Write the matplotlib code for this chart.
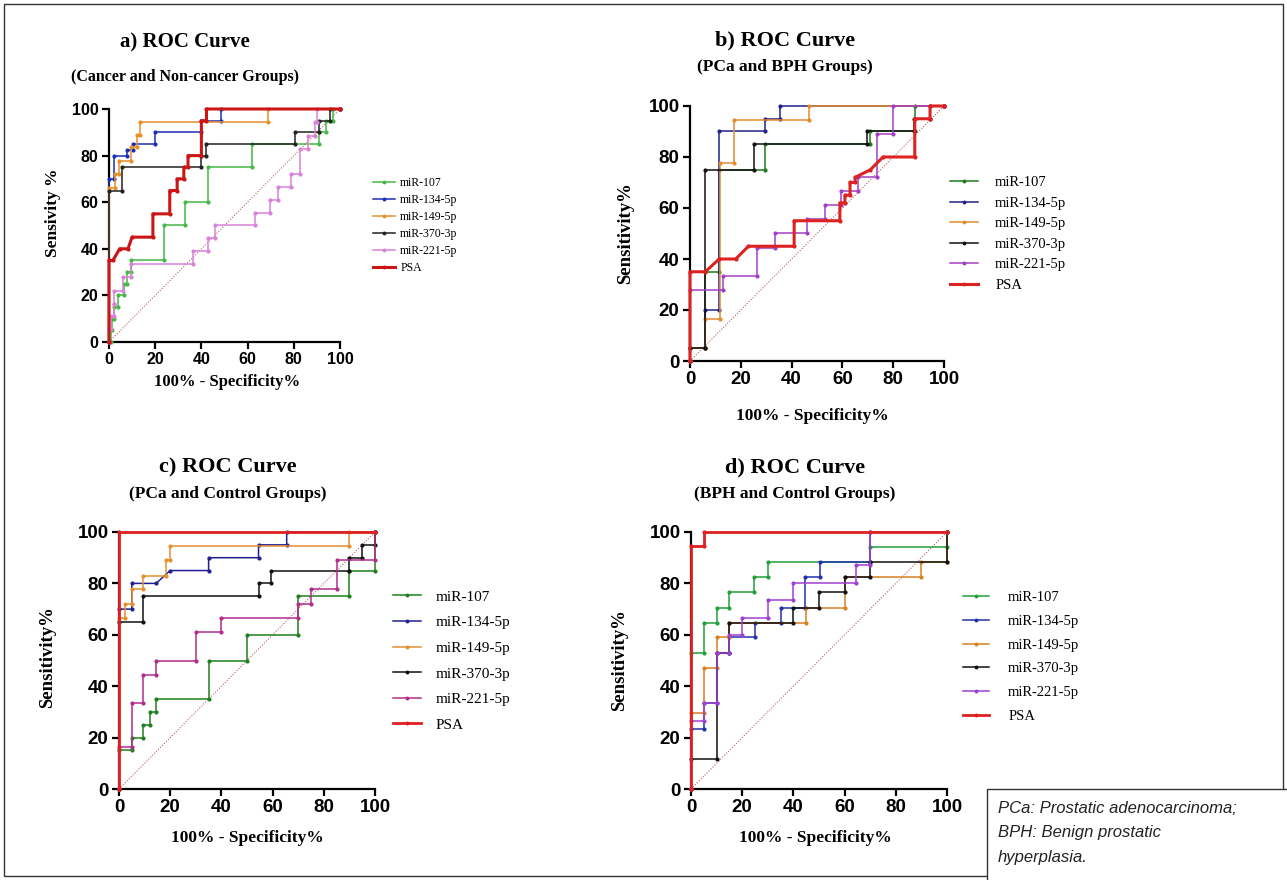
import matplotlib.pyplot as plt
from matplotlib.patches import Rectangle

plt.rcParams['font.family'] = ['Liberation Serif', 'DejaVu Serif']

labels = ['miR-107', 'miR-134-5p', 'miR-149-5p', 'miR-370-3p', 'miR-221-5p', 'PSA']
ticks = [0, 20, 40, 60, 80, 100]
chance = [0, 100]

# a) Cancer vs non-cancer  (x = 100% - specificity, y = sensitivity)
a_mir107 = [(0, 0), (1, 0), (1, 5), (1.5, 5), (1.5, 10), (2, 10), (2, 15), (4, 15), (4, 20),
            (6.5, 20), (6.5, 25), (8, 25), (8, 30), (9.5, 30), (9.5, 35), (24, 35), (24, 50),
            (33, 50), (33, 60), (43, 60), (43, 75), (62, 75), (62, 85), (91, 85), (91, 90),
            (94, 90), (94, 95), (97, 95), (97, 100), (100, 100)]
a_mir134 = [(0, 0), (0, 70), (2, 70), (2, 80), (8, 80), (8, 82.5), (10.5, 82.5), (10.5, 85),
            (20, 85), (20, 90), (40, 90), (40, 95), (48.5, 95), (48.5, 100), (100, 100)]
a_mir149 = [(0, 0), (0, 66), (2.5, 66), (2.5, 72), (4.5, 72), (4.5, 77.5), (9.5, 77.5), (9.5, 83.5),
            (12, 83.5), (12, 89), (13.5, 89), (13.5, 94.5), (69, 94.5), (69, 100), (100, 100)]
a_mir370 = [(0, 0), (0, 65), (5.5, 65), (5.5, 75), (40, 75), (40, 80), (42, 80), (42, 85),
            (80.5, 85), (80.5, 90), (91, 90), (91, 95), (95.5, 95), (95.5, 100), (100, 100)]
a_mir221 = [(0, 0), (0, 5.5), (1, 5.5), (1, 11), (2, 11), (2, 16.5), (2.2, 16.5), (2.2, 22),
            (6, 22), (6, 28), (9.5, 28), (9.5, 33.3), (36.5, 33.3), (36.5, 39), (43, 39),
            (43, 44.5), (46, 44.5), (46, 50), (63, 50), (63, 55.5), (69.5, 55.5), (69.5, 61),
            (73, 61), (73, 66.5), (79, 66.5), (79, 72), (82.5, 72), (82.5, 83), (86, 83),
            (86, 88.5), (89, 88.5), (89, 94.5), (90, 94.5), (90, 100), (100, 100)]
a_psa = [(0, 0), (0, 35), (1.7, 35), (4.6, 40), (8.2, 40), (10, 45), (19, 45), (19, 55),
         (26.3, 55), (26.3, 65), (29.5, 65), (29.5, 70), (32.4, 70), (32.4, 75), (34.2, 75),
         (34.2, 80), (40, 80), (40, 95), (42.2, 95), (42.2, 100), (100, 100)]

# b) PCa vs BPH
b_mir107 = [(0, 0), (0, 5), (6, 5), (6, 35), (11.5, 35), (11.5, 75), (29.5, 75), (29.5, 85),
            (71, 85), (71, 90), (88.5, 90), (88.5, 100), (100, 100)]
b_mir134 = [(0, 0), (0, 5), (6, 5), (6, 20), (11.5, 20), (11.5, 90), (29.5, 90), (29.5, 95),
            (35.5, 95), (35.5, 100), (100, 100)]
b_mir149 = [(0, 0), (0, 5), (6, 5), (6, 16.5), (12, 16.5), (12, 77.5), (17.5, 77.5), (17.5, 94.5),
            (47, 94.5), (47, 100), (100, 100)]
b_mir370 = [(0, 0), (0, 5), (6, 5), (6, 75), (25, 75), (25, 85), (69.5, 85), (69.5, 90),
            (88, 90), (88, 95), (94.5, 95), (94.5, 100), (100, 100)]
b_mir221 = [(0, 0), (0, 28), (13, 28), (13, 33.3), (26.5, 33.3), (26.5, 44.5), (33.5, 44.5),
            (33.5, 50), (46, 50), (46, 55.5), (53, 55.5), (53, 61), (59.5, 61), (59.5, 66.5),
            (66, 66.5), (66, 72), (73.5, 72), (73.5, 89), (80, 89), (80, 100), (100, 100)]
b_psa = [(0, 0), (0, 35), (6, 35), (11.5, 40), (18, 40), (23, 45), (41, 45), (41, 55), (59, 55),
         (59, 62), (61, 62), (61, 65), (63, 65), (63, 70), (65, 70), (65, 72), (71, 75), (76, 80),
         (88.5, 80), (88.5, 95), (94.5, 95), (94.5, 100), (100, 100)]

# c) PCa vs control
c_mir107 = [(0, 0), (0, 15), (5, 15), (5, 20), (9.5, 20), (9.5, 25), (12, 25), (12, 30),
            (14.5, 30), (14.5, 35), (35, 35), (35, 50), (50, 50), (50, 60), (70, 60), (70, 75),
            (90, 75), (90, 85), (100, 85), (100, 100)]
c_mir134 = [(0, 0), (0, 70), (5, 70), (5, 80), (14.5, 80), (20, 85), (35, 85), (35, 90),
            (54.5, 90), (54.5, 95), (65.5, 95), (65.5, 100), (100, 100)]
c_mir149 = [(0, 0), (0, 66.5), (2.2, 66.5), (2.2, 72), (5, 72), (5, 77.7), (9.5, 77.7), (9.5, 83),
            (18.5, 83), (18.5, 89), (20, 89), (20, 94.5), (90, 94.5), (90, 100), (100, 100)]
c_mir370 = [(0, 0), (0, 65), (9.5, 65), (9.5, 75), (54.5, 75), (54.5, 80), (59.5, 80), (59.5, 85),
            (90, 85), (90, 90), (95, 90), (95, 95), (100, 95), (100, 100)]
c_mir221 = [(0, 0), (0, 16.5), (5, 16.5), (5, 33.3), (9.5, 33.3), (9.5, 44.5), (14.5, 44.5),
            (14.5, 50), (30, 50), (30, 61), (40, 61), (40, 66.5), (70, 66.5), (70, 72), (75, 72),
            (75, 77.7), (85, 77.7), (85, 89), (100, 89), (100, 100)]
c_psa = [(0, 0), (0, 100), (100, 100)]

# d) BPH vs control
d_mir107 = [(0, 0), (0, 53), (5, 53), (5, 64.7), (10, 64.7), (10, 70.6), (15, 70.6), (15, 76.5),
            (24.5, 76.5), (24.5, 82.4), (30, 82.4), (30, 88.2), (70, 88.2), (70, 94.1),
            (100, 94.1), (100, 100)]
d_mir134 = [(0, 0), (0, 23.5), (5, 23.5), (5, 33.3), (10, 33.3), (10, 53), (15, 53), (15, 59),
            (25, 59), (25, 64.7), (35, 64.7), (35, 70.6), (44.5, 70.6), (44.5, 82.4), (50.5, 82.4),
            (50.5, 88.2), (70, 88.2), (70, 100), (100, 100)]
d_mir149 = [(0, 0), (0, 29.4), (5, 29.4), (5, 47), (10, 47), (10, 59), (15, 59), (15, 64.7),
            (45, 64.7), (45, 70.6), (60, 70.6), (60, 82.4), (90, 82.4), (90, 88.2), (100, 88.2),
            (100, 100)]
d_mir370 = [(0, 0), (0, 11.8), (10, 11.8), (10, 53), (15, 53), (15, 64.7), (40, 64.7), (40, 70.6),
            (50, 70.6), (50, 76.5), (60, 76.5), (60, 82.4), (70, 82.4), (70, 88.2), (100, 88.2),
            (100, 100)]
d_mir221 = [(0, 0), (0, 26.5), (5, 26.5), (5, 33.3), (10, 33.3), (10, 53), (15, 53), (15, 60),
            (20, 60), (20, 66.5), (30, 66.5), (30, 73.5), (40, 73.5), (40, 80), (64.5, 80),
            (64.5, 87), (70, 87), (70, 100), (100, 100)]
d_psa = [(0, 0), (0, 94.5), (5, 94.5), (5, 100), (100, 100)]

fig = plt.figure(figsize=(12.87, 8.8), dpi=100)
W, H = 1287, 880


def px_axes(x0, y0, x1, y1):
    # pixel box -> figure fraction
    return fig.add_axes([x0 / W, 1 - y1 / H, (x1 - x0) / W, (y1 - y0) / H])


panels = [
    dict(box=(109, 109, 340, 342), curves=[a_mir107, a_mir134, a_mir149, a_mir370, a_mir221, a_psa],
         colors=['#45b845', '#1b2fb8', '#e8902a', '#222222', '#d982d9', '#cc1515'],
         psa_lw=2.2, tfs=11.5, title='a) ROC Curve', sub='(Cancer and Non-cancer Groups)',
         tpos=(185, 42), spos=(185, 77), ttl_fs=15, sub_fs=11.5,
         ylabel='Sensivity %', ylpos=(53, 213), xlpos=(227, 382), ylab_fs=12.5, xlab_fs=12,
         leg=(373, 177), leg_fs=8.5, leg_sp=0.42, hl=1.9, htp=0.4),
    dict(box=(690, 106, 944, 361), curves=[b_mir107, b_mir134, b_mir149, b_mir370, b_mir221, b_psa],
         colors=['#1e7a1e', '#22228a', '#e38c2e', '#111111', '#a33fc4', '#dd2222'],
         psa_lw=2.2, tfs=13.5, title='b) ROC Curve', sub='(PCa and BPH Groups)',
         tpos=(785, 40), spos=(785, 67), ttl_fs=16, sub_fs=12.5,
         ylabel='Sensitivity%', ylpos=(626, 233), xlpos=(812, 416), ylab_fs=13.5, xlab_fs=12.5,
         leg=(950, 176), leg_fs=10.5, leg_sp=0.5, hl=1.9, htp=1.2),
    dict(box=(119, 532, 375, 789), curves=[c_mir107, c_mir134, c_mir149, c_mir370, c_mir221, c_psa],
         colors=['#1f801f', '#202090', '#e39030', '#111111', '#b02d8c', '#e02020'],
         psa_lw=2.0, tfs=13.5, title='c) ROC Curve', sub='(PCa and Control Groups)',
         tpos=(228, 467), spos=(228, 494), ttl_fs=16, sub_fs=12.5,
         ylabel='Sensitivity%', ylpos=(48, 657), xlpos=(247, 838), ylab_fs=13.5, xlab_fs=12.5,
         leg=(393, 590), leg_fs=11, leg_sp=0.78, hl=1.8, htp=1.0),
    dict(box=(691, 532, 947, 789), curves=[d_mir107, d_mir134, d_mir149, d_mir370, d_mir221, d_psa],
         colors=['#22a03a', '#2233aa', '#d98020', '#111111', '#a040d0', '#e02020'],
         psa_lw=2.0, tfs=13.5, title='d) ROC Curve', sub='(BPH and Control Groups)',
         tpos=(795, 467), spos=(795, 494), ttl_fs=16, sub_fs=12.5,
         ylabel='Sensitivity%', ylpos=(620, 660), xlpos=(815, 838), ylab_fs=13.5, xlab_fs=12.5,
         leg=(963, 591), leg_fs=10.5, leg_sp=0.72, hl=1.8, htp=1.3),
]

for p in panels:
    ax = px_axes(*p['box'])
    ax.set_xlim(0, 100)
    ax.set_ylim(0, 100)
    ax.plot(chance, chance, linestyle=(0, (1, 1.5)), color='#c06060', lw=0.8, zorder=1)
    handles = []
    for i, (pts, col) in enumerate(zip(p['curves'], p['colors'])):
        xs = [q[0] for q in pts]
        ys = [q[1] for q in pts]
        is_psa = i == 5
        lw = p['psa_lw'] if is_psa else 1.1
        ln, = ax.plot(xs, ys, color=col, lw=lw, marker='o', ms=2.0, mec=col, mfc=col,
                      clip_on=False, zorder=3 + (2 if is_psa else 0))
        handles.append(ln)
    for s in ['top', 'right']:
        ax.spines[s].set_visible(False)
    for s in ['left', 'bottom']:
        ax.spines[s].set_linewidth(1.6)
    ax.set_xticks(ticks)
    ax.set_yticks(ticks)
    ax.tick_params(width=1.6, length=5, labelsize=p['tfs'], pad=2.5)
    for t in ax.get_xticklabels() + ax.get_yticklabels():
        t.set_fontfamily('Liberation Sans')
        t.set_fontweight('bold')

    fig.text(p['tpos'][0] / W, 1 - p['tpos'][1] / H, p['title'], ha='center', va='center',
             fontsize=p['ttl_fs'], fontweight='bold')
    fig.text(p['spos'][0] / W, 1 - p['spos'][1] / H, p['sub'], ha='center', va='center',
             fontsize=p['sub_fs'], fontweight='bold')
    fig.text(p['ylpos'][0] / W, 1 - p['ylpos'][1] / H, p['ylabel'], ha='center', va='center',
             rotation=90, fontsize=p['ylab_fs'], fontweight='bold')
    fig.text(p['xlpos'][0] / W, 1 - p['xlpos'][1] / H, '100% - Specificity%', ha='center',
             va='center', fontsize=p['xlab_fs'], fontweight='bold')

    ax.legend(handles, labels, loc='upper left',
              bbox_to_anchor=(p['leg'][0] / W, 1 - p['leg'][1] / H), bbox_transform=fig.transFigure,
              frameon=False, fontsize=p['leg_fs'], labelspacing=p['leg_sp'], handlelength=p['hl'],
              handletextpad=p['htp'], borderpad=0, borderaxespad=0, numpoints=1, markerscale=0.9)

# outer frame and footnote box
fig.add_artist(Rectangle((4 / W, 4 / H), 1 - 8 / W, 1 - 8 / H, transform=fig.transFigure,
                         fill=False, lw=1.0, edgecolor='#333333'))
fig.add_artist(Rectangle((987 / W, -0.01), 1 - 987 / W + 0.01, 0.01 + 91 / H,
                         transform=fig.transFigure, facecolor='white', lw=1.0, edgecolor='#333333'))
note = ['PCa: Prostatic adenocarcinoma;', 'BPH: Benign prostatic', 'hyperplasia.']
for k, line in enumerate(note):
    fig.text(998 / W, 1 - (808 + 24.5 * k) / H, line, ha='left', va='center', fontsize=12,
             fontstyle='italic', family='Liberation Sans', color='#222222')

fig.savefig('out.png', dpi=100, facecolor='white')
